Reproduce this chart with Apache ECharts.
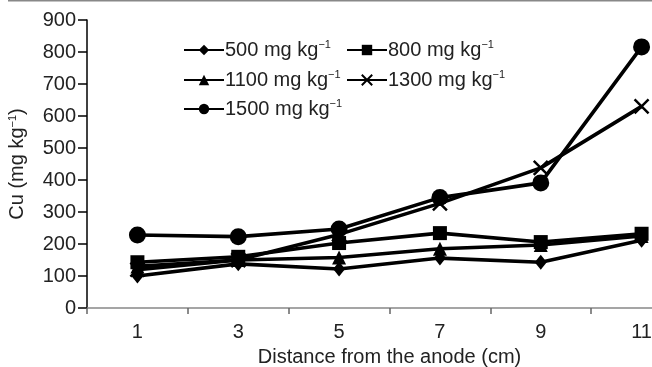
<!DOCTYPE html>
<html>
<head>
<meta charset="utf-8">
<script src="https://cdn.jsdelivr.net/npm/echarts@6/dist/echarts.min.js"></script>
<style>
html,body{margin:0;padding:0;background:#fff;}
#chart{width:652px;height:367px;}
</style>
</head>
<body>
<div id="chart"></div>
<script>
var categories = ['1', '3', '5', '7', '9', '11'];
var yTicks = [0, 100, 200, 300, 400, 500, 600, 700, 800, 900];
var seriesNames = ['500 mg kg', '800 mg kg', '1100 mg kg', '1300 mg kg', '1500 mg kg'];
var s500 = [100, 138, 122, 156, 143, 212];
var s800 = [143, 160, 203, 234, 206, 232];
var s1100 = [130, 150, 158, 185, 197, 225];
var s1300 = [120, 150, 230, 327, 438, 630];
var s1500 = [228, 223, 247, 345, 391, 816];

var FONT = '"Liberation Sans", Arial, sans-serif';
var TXT = '#222';
var xPath = 'path://M0,0L10,10M10,0L0,10';

var symbols = ['diamond', 'rect', 'triangle', xPath, 'circle'];
var sizes = [[12, 15], 14, 14, 14, 17];
var values = [s500, s800, s1100, s1300, s1500];

var series = seriesNames.map(function (n, i) {
  var isX = i === 3;
  return {
    name: n,
    type: 'line',
    data: values[i],
    symbol: symbols[i],
    symbolSize: sizes[i],
    showAllSymbol: true,
    lineStyle: { color: '#000', width: 3.6 },
    itemStyle: isX ? { color: '#000', borderColor: '#000', borderWidth: 2.5 } : { color: '#000', borderWidth: 0 },
    emphasis: { disabled: true },
    animation: false
  };
});

var rich = {
  a: { fontSize: 20, lineHeight: 22, color: TXT, fontFamily: FONT },
  s: { fontSize: 11, lineHeight: 11, color: TXT, fontFamily: FONT, verticalAlign: 'top' }
};

function mkLegend(name, left, top) {
  return {
    data: [name],
    left: left,
    top: top,
    itemWidth: 40,
    itemHeight: 13,
    padding: 0,
    selectedMode: false,
    formatter: function (n) { return '{a|' + n + '}{s|\u22121}'; },
    textStyle: { rich: rich, padding: [0, 0, 0, -4] }
  };
}

var chart = echarts.init(document.getElementById('chart'), null, { renderer: 'canvas' });
chart.setOption({
  animation: false,
  backgroundColor: '#fff',
  textStyle: { fontFamily: FONT },
  grid: { left: 87, top: 20, height: 288, width: 605, containLabel: false, outerBoundsMode: 'none' },
  legend: [
    mkLegend(seriesNames[0], 183, 39),
    mkLegend(seriesNames[1], 346, 39),
    mkLegend(seriesNames[2], 183, 69),
    mkLegend(seriesNames[3], 346, 69),
    mkLegend(seriesNames[4], 183, 98)
  ],
  xAxis: {
    type: 'category',
    data: categories,
    boundaryGap: true,
    axisLine: { lineStyle: { color: '#888', width: 1.5 } },
    axisTick: { show: true, length: 6, lineStyle: { color: '#666', width: 1.5 } },
    axisLabel: { fontSize: 20, color: TXT, margin: 14, fontFamily: FONT },
    splitLine: { show: false },
    name: 'Distance from the anode (cm)',
    nameLocation: 'middle',
    nameGap: 39,
    nameTextStyle: { fontSize: 20, color: TXT, fontFamily: FONT }
  },
  yAxis: {
    type: 'value',
    min: yTicks[0],
    max: yTicks[yTicks.length - 1],
    interval: 100,
    axisLine: { show: true, lineStyle: { color: '#000', width: 1.5 } },
    axisTick: { show: true, length: 9, lineStyle: { color: '#000', width: 1.5 } },
    axisLabel: { fontSize: 20, color: TXT, margin: 11, fontFamily: FONT },
    splitLine: { show: false },
    name: 'Cu (mg kg{s|\u22121})',
    nameLocation: 'middle',
    nameGap: 60,
    nameTextStyle: {
      fontSize: 20, color: TXT, fontFamily: FONT,
      rich: {
        s: { fontSize: 11, lineHeight: 11, color: TXT, fontFamily: FONT, verticalAlign: 'top' }
      }
    }
  },
  graphic: [{
    type: 'line',
    shape: { x1: 8, y1: 0.75, x2: 652, y2: 0.75 },
    style: { stroke: '#888', lineWidth: 1.5 },
    silent: true
  }],
  series: series
});
</script>
</body>
</html>
